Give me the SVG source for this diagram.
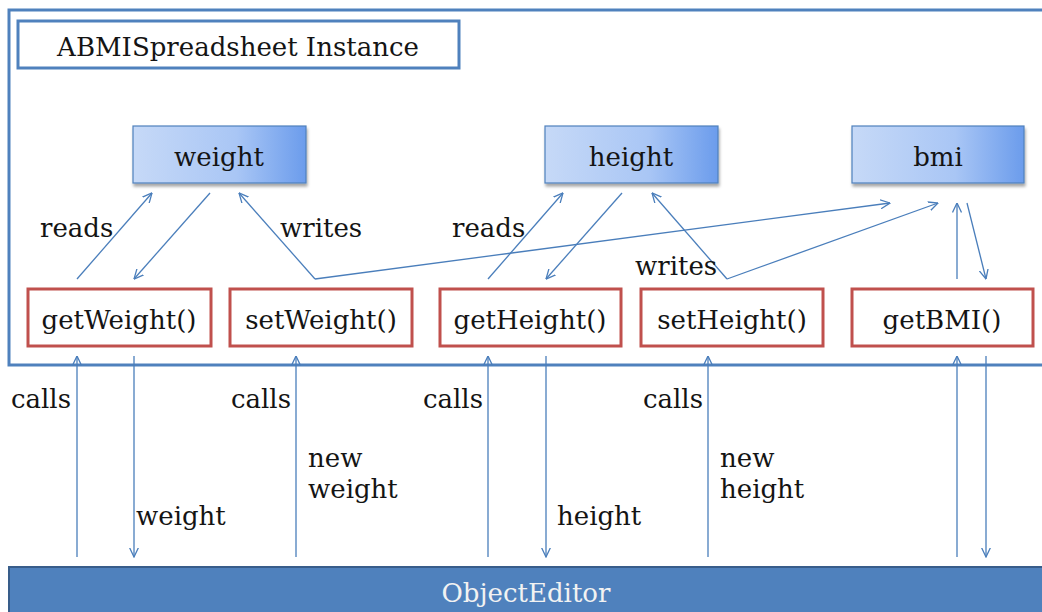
<svg xmlns="http://www.w3.org/2000/svg" width="1042" height="612" viewBox="0 0 1042 612">
<defs>
<linearGradient id="fieldGrad" x1="0" y1="0" x2="1" y2="0">
<stop offset="0" stop-color="#c6d9f7"/>
<stop offset="0.6" stop-color="#a9c6f5"/>
<stop offset="1" stop-color="#6b9cec"/>
</linearGradient>
<filter id="shadow" x="-10%" y="-10%" width="120%" height="140%">
<feDropShadow dx="1" dy="3" stdDeviation="1.5" flood-color="#000" flood-opacity="0.35"/>
</filter>
<marker id="arr" viewBox="0 0 10 10" refX="9.5" refY="5" markerWidth="10" markerHeight="10" markerUnits="userSpaceOnUse" orient="auto">
<path d="M0,0.5 L9.5,5 L0,9.5" fill="none" stroke="#4a7ebb" stroke-width="1.3"/>
</marker>
</defs>
<style>
text{font-family:"DejaVu Serif","Liberation Serif",serif;font-size:26px;fill:#141414}
.field{fill:url(#fieldGrad);stroke:#4f81bd;stroke-width:1.2;filter:url(#shadow)}
.method{fill:#fff;stroke:#c0504d;stroke-width:3}
.conn line,.conn polyline{stroke:#4a7ebb;stroke-width:1.3;fill:none}
.c{text-anchor:middle}
.r{text-anchor:end}
</style>
<rect x="0" y="0" width="1042" height="612" fill="#fff"/>
<g id="container">
<rect x="9" y="10" width="1060" height="355" fill="none" stroke="#4f81bd" stroke-width="3"/>
</g>
<g id="title">
<rect x="18" y="21" width="441" height="47" fill="#fff" stroke="#4f81bd" stroke-width="3"/>
<text x="238" y="56" class="c">ABMISpreadsheet Instance</text>
</g>
<g id="weight"><rect class="field" x="133" y="126" width="173" height="57"/><text x="219" y="166" class="c">weight</text></g>
<g id="height"><rect class="field" x="545" y="126" width="173" height="57"/><text x="631" y="166" class="c">height</text></g>
<g id="bmi"><rect class="field" x="852" y="126" width="172" height="57"/><text x="938" y="166" class="c">bmi</text></g>
<g id="getWeight"><rect class="method" x="28" y="289" width="183" height="57"/><text x="119" y="329" class="c">getWeight()</text></g>
<g id="setWeight"><rect class="method" x="230" y="289" width="182" height="57"/><text x="321" y="329" class="c">setWeight()</text></g>
<g id="getHeight"><rect class="method" x="440" y="289" width="181" height="57"/><text x="530" y="329" class="c">getHeight()</text></g>
<g id="setHeight"><rect class="method" x="641" y="289" width="182" height="57"/><text x="732" y="329" class="c">setHeight()</text></g>
<g id="getBMI"><rect class="method" x="852" y="289" width="181" height="57"/><text x="942" y="329" class="c">getBMI()</text></g>
<g id="ObjectEditor">
<rect x="9" y="567" width="1060" height="50" fill="#4f81bd" stroke="#385d8a" stroke-width="2"/>
<text x="526" y="602" class="c" style="fill:#f2f2f2">ObjectEditor</text>
</g>
<g class="conn" id="connectors">
<line x1="77" y1="279" x2="152" y2="193" marker-end="url(#arr)"/>
<line x1="210" y1="193" x2="134" y2="279" marker-end="url(#arr)"/>
<line x1="315" y1="279" x2="239" y2="193" marker-end="url(#arr)"/>
<line x1="315" y1="279" x2="890" y2="203" marker-end="url(#arr)"/>
<line x1="488" y1="279" x2="563" y2="193" marker-end="url(#arr)"/>
<line x1="622" y1="193" x2="546" y2="279" marker-end="url(#arr)"/>
<line x1="727" y1="279" x2="652" y2="193" marker-end="url(#arr)"/>
<line x1="727" y1="279" x2="938" y2="203" marker-end="url(#arr)"/>
<line x1="957" y1="279" x2="957" y2="203" marker-end="url(#arr)"/>
<line x1="967" y1="203" x2="986" y2="279" marker-end="url(#arr)"/>
<line x1="77" y1="557" x2="77" y2="356" marker-end="url(#arr)"/>
<line x1="134" y1="356" x2="134" y2="557" marker-end="url(#arr)"/>
<line x1="296" y1="557" x2="296" y2="356" marker-end="url(#arr)"/>
<line x1="488" y1="557" x2="488" y2="356" marker-end="url(#arr)"/>
<line x1="546" y1="356" x2="546" y2="557" marker-end="url(#arr)"/>
<line x1="708" y1="557" x2="708" y2="356" marker-end="url(#arr)"/>
<line x1="957" y1="557" x2="957" y2="356" marker-end="url(#arr)"/>
<line x1="986" y1="356" x2="986" y2="557" marker-end="url(#arr)"/>
</g>
<g id="labels">
<text x="40" y="237">reads</text>
<text x="280" y="237">writes</text>
<text x="452" y="237">reads</text>
<text x="635" y="275">writes</text>
<text x="71" y="408" class="r">calls</text>
<text x="291" y="408" class="r">calls</text>
<text x="483" y="408" class="r">calls</text>
<text x="703" y="408" class="r">calls</text>
<text x="136" y="525">weight</text>
<text x="308" y="467">new</text>
<text x="308" y="498">weight</text>
<text x="557" y="525">height</text>
<text x="720" y="467">new</text>
<text x="720" y="498">height</text>
</g>
</svg>
